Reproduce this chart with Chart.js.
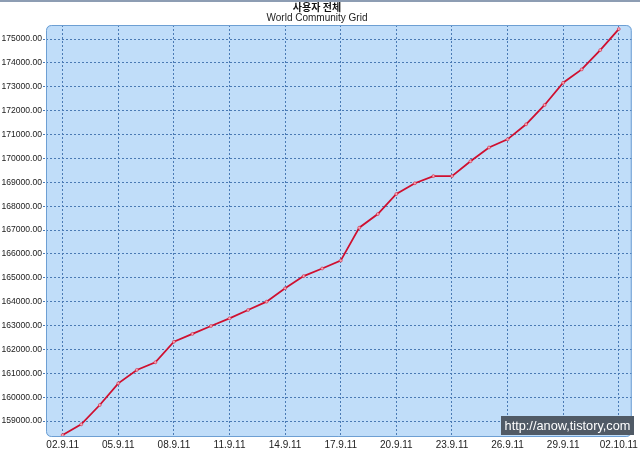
<!DOCTYPE html>
<html>
<head>
<meta charset="utf-8">
<script src="https://cdn.jsdelivr.net/npm/chart.js@4"></script>
<style>
  html, body { margin: 0; padding: 0; background: #fff; }
  #wrap { width: 640px; height: 450px; }
</style>
</head>
<body>
<div id="wrap"><canvas id="chart" width="640" height="450"></canvas></div>
<script>
// Daily labels, 2 Sep 2011 .. 2 Oct 2011
const dayLabels = [
    '02.9.11', '03.9.11', '04.9.11', '05.9.11', '06.9.11', '07.9.11', '08.9.11',
    '09.9.11', '10.9.11', '11.9.11', '12.9.11', '13.9.11', '14.9.11', '15.9.11',
    '16.9.11', '17.9.11', '18.9.11', '19.9.11', '20.9.11', '21.9.11', '22.9.11',
    '23.9.11', '24.9.11', '25.9.11', '26.9.11', '27.9.11', '28.9.11', '29.9.11',
    '30.9.11', '01.10.11', '02.10.11'
];

// Total users
const users = [
    158410, 158860, 159670, 160580, 161140, 161460, 162320,
    162650, 162980, 163300, 163650, 164000, 164560, 165070,
    165390, 165720, 167100, 167670, 168510, 168960, 169260,
    169260, 169880, 170460, 170800, 171430, 172240, 173170,
    173730, 174540, 175420
];

const yTickValues = [];
for (let v = 159000; v <= 175000; v += 1000) yTickValues.push(v);
const xTickDays = [0, 3, 6, 9, 12, 15, 18, 21, 24, 27, 30];

// Plot background + rounded border + top line + watermark
const decorPlugin = {
    id: 'decor',
    beforeDraw(chart) {
        const ctx = chart.ctx;
        const a = chart.chartArea;
        ctx.save();
        ctx.fillStyle = '#8d9db3';
        ctx.fillRect(0, 0, chart.width, 2);
        ctx.beginPath();
        ctx.roundRect(a.left, a.top, a.right - a.left, a.bottom - a.top, 5);
        ctx.fillStyle = '#c0ddf9';
        ctx.fill();
        ctx.restore();
    },
    afterDraw(chart) {
        const ctx = chart.ctx;
        const a = chart.chartArea;
        ctx.save();
        ctx.beginPath();
        ctx.roundRect(a.left + 0.5, a.top + 0.5, a.right - a.left - 1, a.bottom - a.top - 1, 5);
        ctx.strokeStyle = '#6d9fd3';
        ctx.lineWidth = 1;
        ctx.stroke();
        // watermark
        ctx.fillStyle = '#505a66';
        ctx.fillRect(501, 416, 133, 19);
        ctx.fillStyle = '#ffffff';
        let size = 13;
        ctx.font = size + 'px "Liberation Sans", sans-serif';
        while (ctx.measureText('http://anow,tistory,com').width > 126 && size > 8) {
            size -= 0.25;
            ctx.font = size + 'px "Liberation Sans", sans-serif';
        }
        ctx.textBaseline = 'middle';
        ctx.textAlign = 'center';
        ctx.fillText('http://anow,tistory,com', 567.5, 426);
        ctx.restore();
    }
};

const ctx = document.getElementById('chart').getContext('2d');
new Chart(ctx, {
    type: 'line',
    data: {
        datasets: [{
            label: '사용자 전체',
            data: users.map((v, i) => ({ x: i, y: v })),
            borderColor: '#cf1030',
            borderWidth: 1.8,
            pointRadius: 1.5,
            pointBackgroundColor: '#f3a6b4',
            pointBorderColor: '#cf1030',
            pointBorderWidth: 0.5,
            tension: 0
        }]
    },
    options: {
        responsive: false,
        animation: false,
        layout: { padding: { left: 0, right: 6, top: 0, bottom: 0 } },
        plugins: {
            legend: { display: false },
            tooltip: { enabled: false },
            title: {
                display: true,
                text: '사용자 전체',
                color: '#111',
                font: { family: '"Noto Sans CJK KR", sans-serif', size: 10, weight: 'bold', lineHeight: 1.2 },
                padding: { top: 1, bottom: 0 }
            },
            subtitle: {
                display: true,
                text: 'World Community Grid',
                color: '#222',
                font: { family: '"Liberation Sans", sans-serif', size: 10, lineHeight: 1.1 },
                padding: { top: 0, bottom: 1 }
            }
        },
        scales: {
            x: {
                type: 'linear',
                min: -0.9,
                max: 30.7,
                afterBuildTicks(scale) {
                    scale.ticks = xTickDays.map(d => ({ value: d }));
                },
                afterFit(scale) { scale.height = 13; },
                border: { display: false, dash: [2, 2] },
                grid: {
                    color: '#4a7ab4',
                    lineWidth: 1,
                    drawTicks: false
                },
                ticks: {
                    padding: 2,
                    maxRotation: 0,
                    autoSkip: false,
                    color: '#222',
                    font: { family: '"Liberation Sans", sans-serif', size: 10 },
                    callback: value => dayLabels[value]
                }
            },
            y: {
                min: 158330,
                max: 175590,
                afterBuildTicks(scale) {
                    scale.ticks = yTickValues.map(v => ({ value: v }));
                },
                afterFit(scale) { scale.width = 46; },
                border: { display: false, dash: [2, 2] },
                grid: {
                    color: '#4a7ab4',
                    lineWidth: 1,
                    drawTicks: true,
                    tickLength: 3,
                    tickBorderDash: [2, 2]
                },
                ticks: {
                    padding: 1,
                    color: '#222',
                    font: { family: '"Liberation Sans", sans-serif', size: 8.6 },
                    callback: value => value.toFixed(2)
                }
            }
        }
    },
    plugins: [decorPlugin]
});
</script>
</body>
</html>
